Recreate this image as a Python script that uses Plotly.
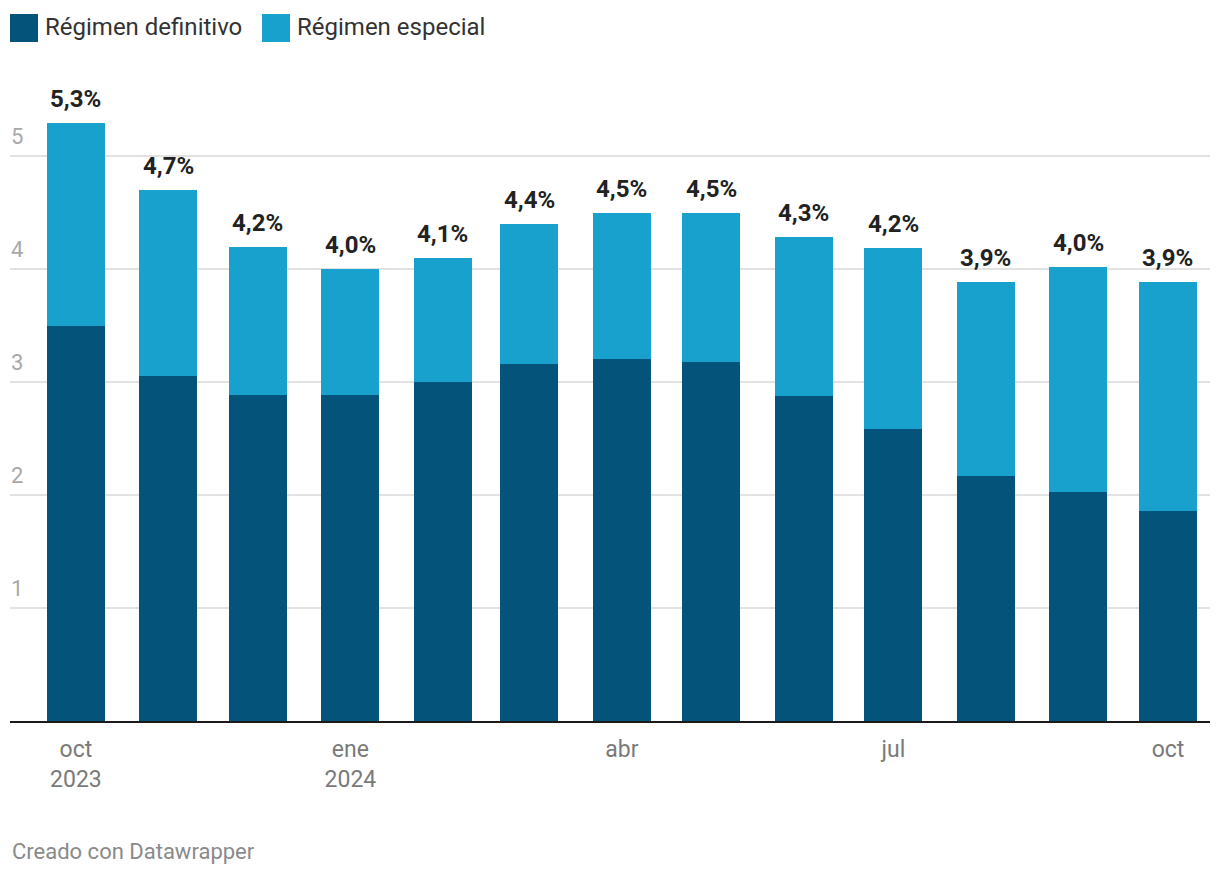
import plotly.graph_objects as go

months = ["2023-10-01", "2023-11-01", "2023-12-01", "2024-01-01", "2024-02-01",
          "2024-03-01", "2024-04-01", "2024-05-01", "2024-06-01", "2024-07-01",
          "2024-08-01", "2024-09-01", "2024-10-01"]
definitivo = [3.50, 3.06, 2.89, 2.89, 3.00, 3.16, 3.21, 3.18, 2.88, 2.59, 2.17, 2.03, 1.86]
total = [5.30, 4.70, 4.20, 4.00, 4.10, 4.40, 4.50, 4.50, 4.29, 4.19, 3.89, 4.02, 3.89]
especial = [round(t - d, 2) for t, d in zip(total, definitivo)]

tick_vals = ["2023-10-01", "2024-01-01", "2024-04-01", "2024-07-01", "2024-10-01"]
tick_text = ["oct<br>2023", "ene<br>2024", "abr", "jul", "oct"]
y_ticks = [1, 2, 3, 4, 5]

C_DEF = "#03537b"
C_ESP = "#18a1cd"
FONT = "Roboto"
BAR_W = 19.45 * 86400000

fig = go.Figure()
fig.add_bar(x=months, y=definitivo, name="Régimen definitivo", marker_color=C_DEF,
            width=BAR_W, marker_line_width=0, hoverinfo="skip")
fig.add_bar(x=months, y=especial, name="Régimen especial", marker_color=C_ESP,
            width=BAR_W, marker_line_width=0, hoverinfo="skip")

ann = []
for m, t in zip(months, total):
    ann.append(dict(x=m, y=t, xref="x", yref="y", text=f"<b>{t:.1f}%</b>".replace(".", ","),
                    showarrow=False, yanchor="bottom", yshift=8,
                    font=dict(family=FONT, size=24, color="#222222")))
for v in y_ticks:
    ann.append(dict(x=0, y=v, xref="paper", yref="y", text=str(v), showarrow=False,
                    xanchor="left", yanchor="bottom", xshift=-1, yshift=5,
                    font=dict(family=FONT, size=22, color="#a8a8a8")))
# legend
legend_items = [("Régimen definitivo", C_DEF, 10), ("Régimen especial", C_ESP, 262)]
shapes = []
for name, col, x0 in legend_items:
    shapes.append(dict(type="rect", xref="paper", yref="paper",
                       x0=(x0 - 10) / 1200, x1=(x0 + 18) / 1200,
                       y0=(721 - 42) / 621, y1=(721 - 14) / 621,
                       fillcolor=col, line_width=0))
    ann.append(dict(x=(x0 + 23) / 1200, y=(721 - 27) / 621, xref="paper", yref="paper",
                    text=name, showarrow=False, xanchor="left", yanchor="middle",
                    font=dict(family=FONT, size=24, color="#333333")))
ann.append(dict(x=-0.5 / 1200, y=(721 - 851) / 621, xref="paper", yref="paper",
                text="Creado con Datawrapper", showarrow=False, xanchor="left",
                yanchor="middle", font=dict(family=FONT, size=22, color="#8a8a8a")))

fig.update_layout(
    barmode="stack",
    width=1220, height=876,
    margin=dict(l=10, r=10, t=100, b=155),
    paper_bgcolor="white", plot_bgcolor="white",
    showlegend=False,
    annotations=ann, shapes=shapes,
    font=dict(family=FONT),
)
fig.update_xaxes(type="date", range=["2023-09-08 22:00", "2024-10-15 02:00"],
                 tickvals=tick_vals, ticktext=tick_text, ticks="", showgrid=False,
                 showline=True, linecolor="#1a1a1a", linewidth=2, ticklabelstandoff=6,
                 tickfont=dict(family=FONT, size=23, color="#7a7a7a"))
fig.update_yaxes(range=[0, 5.5], tickvals=y_ticks, showticklabels=False,
                 showgrid=True, gridcolor="#e2e2e2", gridwidth=2, zeroline=False)

fig.write_html("out.html")
